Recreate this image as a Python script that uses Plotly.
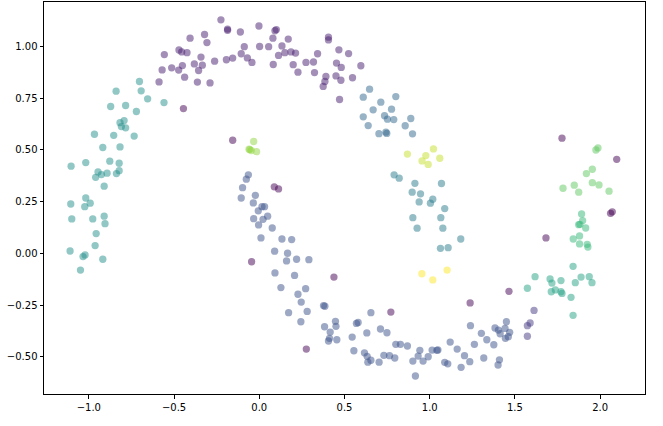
import plotly.graph_objects as go

# cluster labels (-1 = noise) and the points of each one
noise_x = [-0.445, -0.156, 0.088, 0.113, -0.045, 0.438, 0.772, 0.276, 1.237, 1.465, 1.682, 2.061, 2.071, 1.776, 2.097]
noise_y = [0.700, 0.547, 0.322, 0.312, -0.040, -0.114, -0.283, -0.462, -0.239, -0.183, 0.075, 0.194, 0.201, 0.557, 0.455]

arc_x = [-0.225, -0.186, -0.186, -0.111, -0.406, -0.321, -0.307, -0.088, -0.471, -0.455, -0.424, -0.557,
         -0.342, -0.106, -0.070, -0.043, -0.262, -0.193, -0.156, -0.381, -0.334, -0.451, -0.514, -0.570,
         -0.473, -0.356, -0.438, -0.588, -0.363, -0.289,
         -0.002, 0.092, 0.100, 0.080, 0.170, 0.406, 0.406, 0.002, 0.055, 0.133, 0.113, 0.150, 0.186,
         0.213, 0.342, 0.467, 0.524, 0.082, 0.199, 0.274, 0.318, 0.453, 0.481, 0.596, 0.227, 0.324,
         0.391, 0.450, 0.479, 0.547, 0.385, 0.375, 0.471]
arc_y = [1.129, 1.084, 1.078, 1.070, 1.040, 1.058, 1.019, 0.999, 0.983, 0.974, 0.970, 0.961,
         0.949, 0.965, 0.945, 0.923, 0.929, 0.936, 0.944, 0.916, 0.910, 0.908, 0.897, 0.887,
         0.886, 0.884, 0.852, 0.829, 0.828, 0.824,
         1.099, 1.076, 1.082, 1.040, 1.036, 1.045, 1.032, 1.000, 0.999, 1.003, 0.957, 0.970, 0.974,
         0.968, 0.965, 0.984, 0.966, 0.913, 0.912, 0.923, 0.925, 0.920, 0.899, 0.907, 0.876, 0.874,
         0.855, 0.858, 0.837, 0.849, 0.831, 0.807, 0.744]

lav_x = [1.573, 1.589, 1.573, 1.612]
lav_y = [-0.349, -0.336, -0.400, -0.275]

low_x = [-0.064, -0.076, -0.098, -0.106, -0.023, -0.035, 0.016, 0.031, -0.006, 0.049, -0.033, 0.022,
         -0.004, 0.076, 0.010, 0.133, 0.190, 0.090, 0.166, 0.160, 0.219, 0.291, 0.092, 0.207, 0.127,
         0.272, 0.227, 0.246, 0.172, 0.281, 0.244, 0.377, 0.385, 0.383, 0.416, 0.447, 0.450, 0.412,
         0.406, 0.455, 0.545, 0.570, 0.580, 0.631, 0.655, 0.711, 0.749, 0.555, 0.617, 0.633, 0.655,
         0.637, 0.703, 0.731, 0.764, 0.795, 0.801, 0.828, 0.869, 0.942, 0.932, 0.901, 0.961, 0.991,
         1.014, 1.042, 1.048, 0.916, 1.088, 1.106, 1.120,
         1.161, 1.204, 1.184, 1.235, 1.262, 1.239, 1.303, 1.335, 1.317, 1.376, 1.383, 1.403, 1.413,
         1.442, 1.450, 1.469, 1.444, 1.461, 1.409, 1.401]
low_y = [0.380, 0.359, 0.318, 0.268, 0.281, 0.244, 0.226, 0.226, 0.206, 0.180, 0.168, 0.165,
         0.138, 0.123, 0.075, 0.070, 0.067, 0.011, 0.001, -0.036, -0.028, -0.030, -0.094, -0.106, -0.165,
         -0.170, -0.197, -0.235, -0.286, -0.280, -0.330, -0.252, -0.255, -0.354, -0.380, -0.328, -0.352, -0.410,
         -0.423, -0.417, -0.404, -0.338, -0.333, -0.384, -0.286, -0.365, -0.383, -0.470, -0.480, -0.497, -0.516,
         -0.525, -0.525, -0.492, -0.494, -0.505, -0.439, -0.439, -0.447, -0.468, -0.496, -0.520, -0.520, -0.499,
         -0.467, -0.468, -0.466, -0.592, -0.526, -0.533, -0.428,
         -0.462, -0.494, -0.550, -0.523, -0.439, -0.349, -0.386, -0.417, -0.505, -0.441, -0.360, -0.370, -0.388,
         -0.362, -0.330, -0.381, -0.410, -0.402, -0.514, -0.539]

steel_x = [0.647, 0.610, 0.801, 0.713, 0.668, 0.776, 0.735, 0.752, 0.789, 0.610, 0.889, 0.639, 0.856,
           0.702, 0.743, 0.748, 0.899]
steel_y = [0.794, 0.755, 0.758, 0.731, 0.694, 0.697, 0.666, 0.649, 0.647, 0.660, 0.652, 0.618, 0.617,
           0.579, 0.586, 0.580, 0.578]

tip_x = [0.791, 0.821, 0.913, 1.069, 0.897, 0.946, 1.018, 0.938, 1.004, 1.088, 0.901, 1.065, 0.926,
         1.077, 1.063, 1.108, 1.182]
tip_y = [0.380, 0.364, 0.339, 0.338, 0.296, 0.288, 0.262, 0.249, 0.243, 0.217, 0.173, 0.173, 0.122,
         0.122, 0.025, 0.028, 0.070]

left_x = [-0.703, -0.840, -0.693, -0.655, -0.559, -0.872, -0.784, -0.721, -0.793, -0.817, -0.809, -0.784,
          -0.967, -0.854, -0.734, -0.918, -0.817, -1.104, -1.018, -0.877, -0.822, -0.946, -0.960, -0.926,
          -0.893, -0.838, -0.822, -0.910, -1.018, -1.106, -1.024, -0.992, -1.100, -0.977, -0.910, -0.905,
          -0.957, -0.963, -1.110, -1.034, -1.022, -0.918, -1.049]
left_y = [0.831, 0.784, 0.786, 0.747, 0.729, 0.710, 0.715, 0.686, 0.642, 0.632, 0.613, 0.607,
          0.576, 0.571, 0.567, 0.512, 0.515, 0.422, 0.439, 0.446, 0.436, 0.394, 0.368, 0.381,
          0.388, 0.386, 0.400, 0.325, 0.268, 0.239, 0.226, 0.243, 0.167, 0.167, 0.180, 0.144,
          0.096, 0.038, 0.012, -0.015, -0.007, -0.028, -0.080]

rlow_x = [1.618, 1.573, 1.706, 1.717, 1.770, 1.713, 1.737, 1.770, 1.776, 1.829, 1.841, 1.854, 1.841,
          1.888, 1.936, 1.952]
rlow_y = [-0.112, -0.168, -0.123, -0.143, -0.131, -0.185, -0.176, -0.185, -0.193, -0.212, -0.299, -0.141, -0.062,
          -0.114, -0.112, -0.141]

rmid_x = [1.891, 1.897, 1.874, 1.881, 1.915, 1.842, 1.879, 1.879, 1.924, 1.928]
rmid_y = [0.191, 0.159, 0.139, 0.141, 0.123, 0.070, 0.085, 0.046, 0.044, 0.031]

rtop_x = [1.987, 1.975, 1.954, 1.919, 1.782, 1.848, 1.874, 1.954, 1.993, 2.052]
rtop_y = [0.510, 0.500, 0.407, 0.386, 0.315, 0.330, 0.296, 0.342, 0.331, 0.301]

lime_x = [-0.033, -0.060, -0.055, -0.047, -0.016]
lime_y = [0.541, 0.504, 0.502, 0.497, 0.492]

ylime_x = [0.869, 1.022, 0.977, 1.059, 0.955, 0.991]
ylime_y = [0.480, 0.505, 0.473, 0.460, 0.447, 0.430]

yel_x = [0.954, 1.018, 1.102]
yel_y = [-0.098, -0.128, -0.080]

clusters = [(noise_x, noise_y), (arc_x, arc_y), (lav_x, lav_y), (low_x, low_y), (steel_x, steel_y),
            (tip_x, tip_y), (left_x, left_y), (rlow_x, rlow_y), (rmid_x, rmid_y), (rtop_x, rtop_y),
            (lime_x, lime_y), (ylime_x, ylime_y), (yel_x, yel_y)]

# junta todo en una sola serie con su etiqueta
xs, ys, labels = [], [], []
for lab, (cx, cy) in enumerate(clusters, start=-1):
    xs += cx
    ys += cy
    labels += [lab] * len(cx)

fig = go.Figure(go.Scatter(
    x=xs, y=ys, mode="markers",
    marker=dict(color=labels, colorscale="Viridis", cmin=-1, cmax=len(clusters) - 2,
                size=7.3, opacity=0.5, line=dict(width=0)),
    hoverinfo="skip"))

x_ticks = [-1.0, -0.5, 0.0, 0.5, 1.0, 1.5, 2.0]
y_ticks = [-0.5, -0.25, 0.0, 0.25, 0.5, 0.75, 1.0]

axis_style = dict(showgrid=False, zeroline=False, showline=True, linecolor="black", linewidth=1,
                  mirror=True, ticks="outside", ticklen=3.5, tickwidth=1, tickcolor="black",
                  automargin=False,
                  tickfont=dict(family="DejaVu Sans", size=10, color="black"))

fig.update_xaxes(range=[-1.263, 2.263], tickvals=x_ticks,
                 ticktext=[f"{v:.1f}".replace("-", "\u2212") for v in x_ticks], **axis_style)
fig.update_yaxes(range=[-0.679, 1.215], tickvals=y_ticks,
                 ticktext=[f"{v:.2f}".replace("-", "\u2212") for v in y_ticks], **axis_style)

fig.update_layout(width=663, height=426, margin=dict(l=43.5, r=18, t=2.3, b=32),
                  plot_bgcolor="white", paper_bgcolor="white", showlegend=False)

# quita el margen por defecto del body para que el grafico quede pegado a la esquina
fig.write_html("out.html", config={"displayModeBar": False},
               post_script="document.body.style.margin='0';")
